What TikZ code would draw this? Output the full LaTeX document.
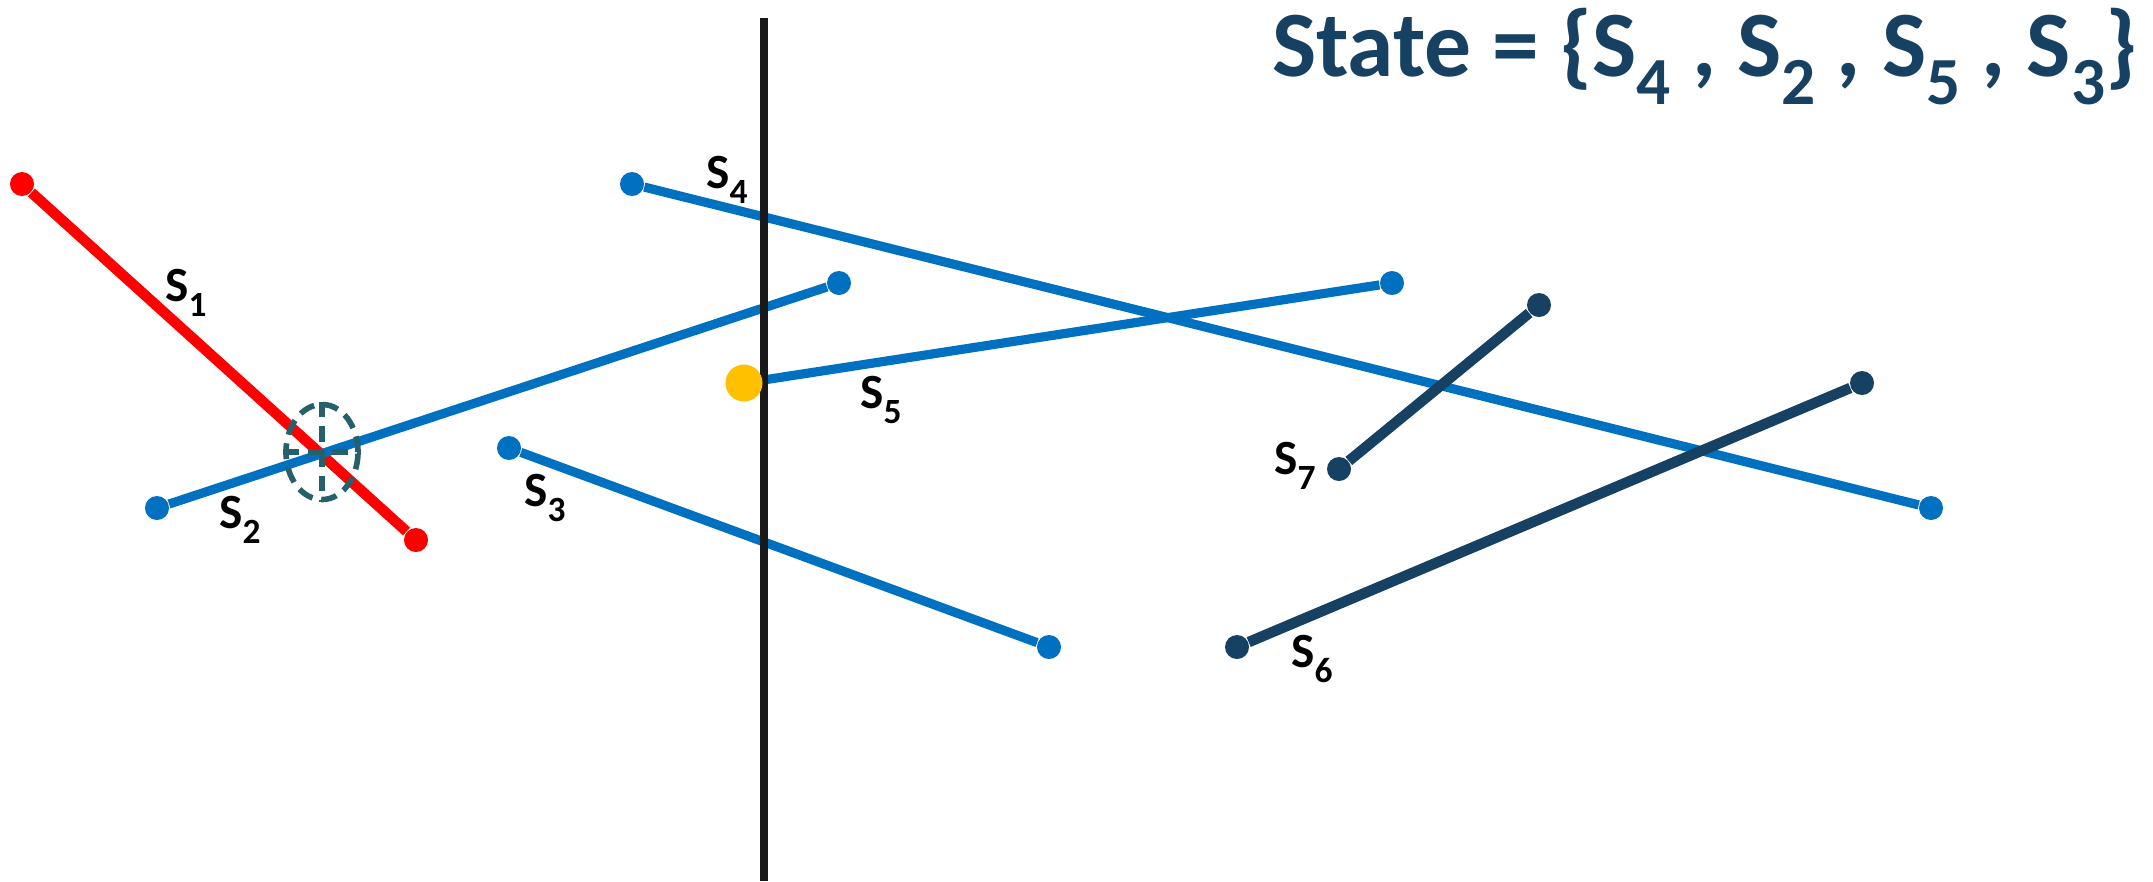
\documentclass[tikz,border=0pt]{standalone}
\usepackage{fontspec}
\setmainfont{Carlito}
\usetikzlibrary{shapes.geometric, positioning, backgrounds}

\definecolor{segblue}{RGB}{0,112,192}
\definecolor{segred}{RGB}{255,0,0}
\definecolor{segnavy}{RGB}{23,65,98}
\definecolor{hitteal}{RGB}{38,96,106}
\definecolor{evtyellow}{RGB}{255,192,0}

\newcommand{\lsub}[1]{\raisebox{-0.3em}{\scalebox{0.72}{#1}}}

\begin{document}
\begin{tikzpicture}[
    x=0.01cm, y=-0.01cm,
    dot/.style={circle, fill=#1, inner sep=0pt, minimum size=0.24cm},
    seg/.style={line width=2.6pt, draw=#1},
    segname/.style={font=\fontsize{14}{16}\selectfont\bfseries, inner sep=0pt},
    hitdash/.style={hitteal, line width=1.6pt, dash pattern=on 4.5pt off 2.5pt},
]
\useasboundingbox (0,0) rectangle (2153,881);

% ── Sweep line ──
\coordinate (sweeptop) at (764,18);
\coordinate (sweepbot) at (764,881);
\draw[line width=2pt, black!90] (sweeptop) -- (sweepbot);

% ── Segment end points ──
\node[dot=segred] (s1a) at (22,184) {};
\node[dot=segred] (s1b) at (416,540) {};
\node[dot=segblue] (s2a) at (157,508) {};
\node[dot=segblue] (s2b) at (839,283) {};
\node[dot=segblue] (s3a) at (509,448) {};
\node[dot=segblue] (s3b) at (1049,647) {};
\node[dot=segblue] (s4a) at (632,184) {};
\node[dot=segblue] (s4b) at (1931,508) {};
\node[dot=segblue] (s5b) at (1392,283) {};
\node[dot=segnavy] (s6a) at (1237,647) {};
\node[dot=segnavy] (s6b) at (1862,383) {};
\node[dot=segnavy] (s7a) at (1339,469) {};
\node[dot=segnavy] (s7b) at (1539,305) {};

% ── Current event point ──
\node[dot=evtyellow, minimum size=0.37cm] (s5a) at (744,383) {};

% ── Segments ──
\begin{scope}[on background layer]
\draw[seg=segred, line width=3pt] (s1a) -- (s1b);
\draw[seg=segblue] (s2a) -- (s2b);
\draw[seg=segblue] (s3a) -- (s3b);
\draw[seg=segblue] (s4a) -- (s4b);
\draw[seg=segblue] (s5a) -- (s5b);
\draw[seg=segnavy, line width=3pt] (s6a) -- (s6b);
\draw[seg=segnavy, line width=3pt] (s7a) -- (s7b);
\end{scope}

% ── Intersection marker ──
\node[ellipse, draw, hitdash, minimum width=0.72cm, minimum height=0.95cm, inner sep=0pt]
    (hit) at (322,452) {};
\draw[hitdash] (hit.west) -- (hit.east);
\draw[hitdash] (hit.north) -- (hit.south);

% ── Labels ──
\node[segname] (l1) at (186,293) {S\lsub{1}};
\node[segname] (l2) at (240,520) {S\lsub{2}};
\node[segname] (l3) at (545,498) {S\lsub{3}};
\node[segname] (l4) at (727,180) {S\lsub{4}};
\node[segname] (l5) at (881,400) {S\lsub{5}};
\node[segname] (l6) at (1312,659) {S\lsub{6}};
\node[segname] (l7) at (1295,466) {S\lsub{7}};

% ── Status ──
\node[font=\fontsize{26.6}{30}\selectfont\bfseries, text=segnavy, anchor=base east, inner sep=0pt]
    (state) at (2138,76) {State = \{S\lsub{4} , S\lsub{2} , S\lsub{5} , S\lsub{3}\}};

\end{tikzpicture}
\end{document}
